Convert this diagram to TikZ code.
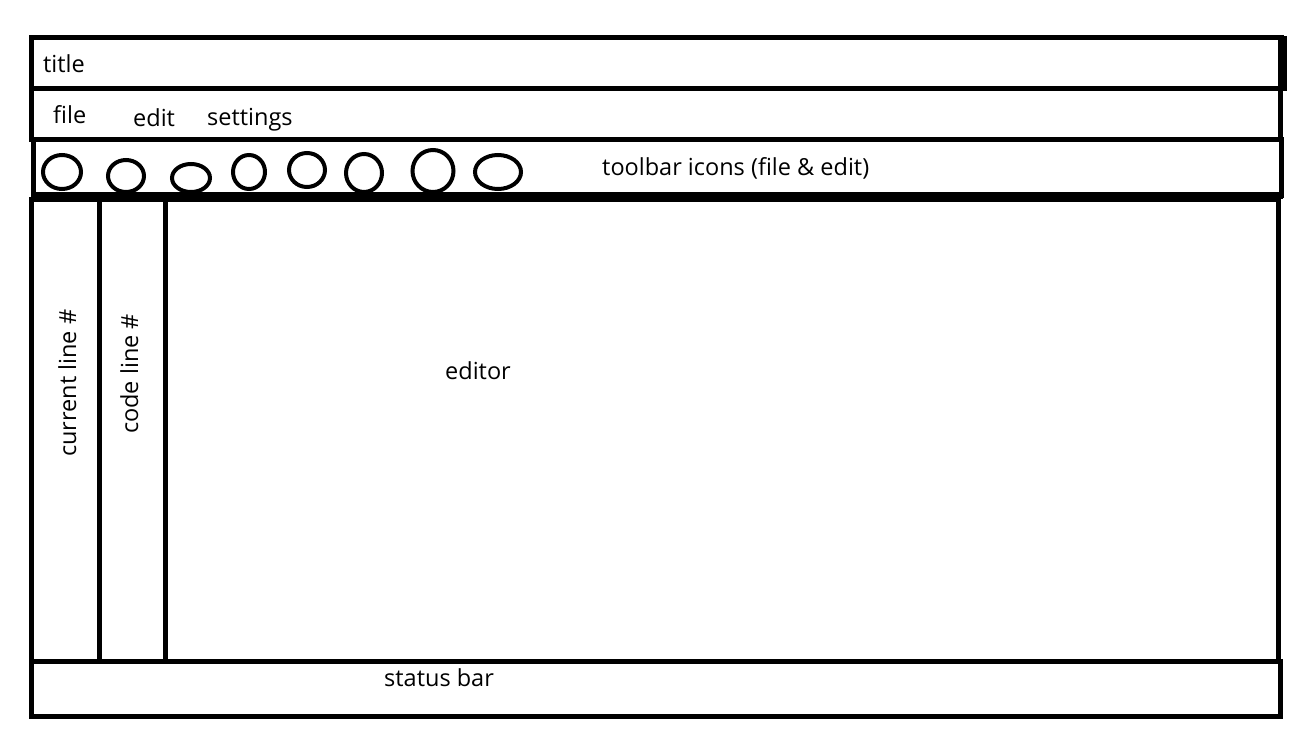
\documentclass[tikz,border=0pt]{standalone}
\usepackage{fontspec}
\setmainfont{Open Sans}
\begin{document}
\begin{tikzpicture}[x=1pt,y=-1pt,
  frame/.style={draw=black,line width=5pt},
  icon/.style={draw=black,line width=4pt},
  lbl/.style={font=\fontsize{23.5}{28}\selectfont,inner sep=0pt,anchor=base west}]
\useasboundingbox (0,0) rectangle (1312,754);
% boxes
\draw[frame] (31,38) rectangle (1281,89);
\draw[black,line width=9pt] (1282,36) -- (1282,91);
\draw[frame] (31,89) rectangle (1280,140);
\draw[frame] (33,140) rectangle (1281,196);
\draw[black,line width=7pt] (31,196) -- (1283,196);
\draw[frame] (31,200) rectangle (1278,661);
\draw[frame] (99,200) -- (99,661);
\draw[frame] (165,200) -- (165,661);
\draw[frame] (31,661) rectangle (1280,716);
% toolbar icons
\draw[icon] (62,172) ellipse [x radius=19,y radius=17];
\draw[icon] (126,176) ellipse [x radius=18,y radius=16];
\draw[icon] (191,178) ellipse [x radius=19,y radius=14];
\draw[icon] (249,172) ellipse [x radius=16,y radius=17];
\draw[icon] (307,170) ellipse [x radius=18,y radius=17];
\draw[icon] (364,173) ellipse [x radius=18,y radius=19];
\draw[icon] (433,171) ellipse [x radius=20.5,y radius=21];
\draw[icon] (498,172) ellipse [x radius=23,y radius=17];
% labels
\node[lbl] (title) at (43,72.5) {title};
\node[lbl] (file) at (53,124) {file};
\node[lbl] (edit) at (133,126.5) {edit};
\node[lbl] (settings) at (207,125.5) {settings};
\node[lbl] (toolbar) at (602,175.5) {toolbar icons (file \& edit)};
\node[lbl] (editor) at (445,379.5) {editor};
\node[lbl] (status) at (384,686.5) {status bar};
\node[lbl,rotate=90] (curline) at (76,457) {current line \#};
\node[lbl,rotate=90] (codeline) at (138,434) {code line \#};
\end{tikzpicture}
\end{document}
